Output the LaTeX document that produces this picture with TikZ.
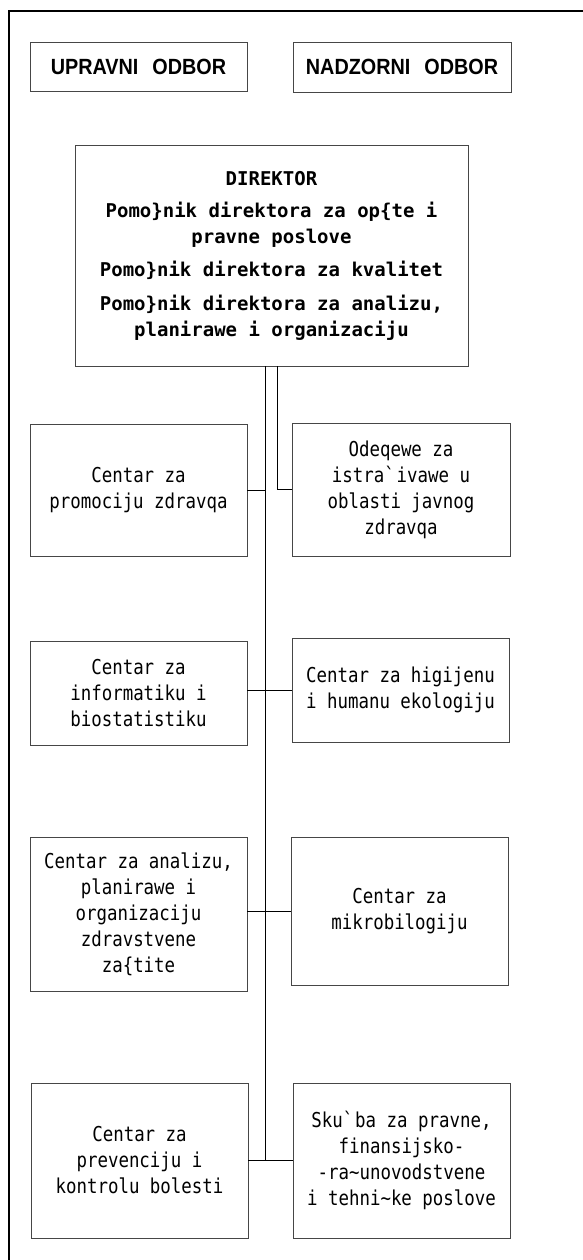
\documentclass[tikz,border=0pt]{standalone}
\usepackage{fontspec}
\usepackage{tikz}
\usetikzlibrary{positioning, calc}
\newfontfamily\unitfont[FakeStretch=0.85]{DejaVu Sans Mono}
\newfontfamily\dirfont{DejaVu Sans Mono Bold}
\newfontfamily\titlefont[FakeStretch=0.9]{Liberation Sans}
\definecolor{boxgray}{RGB}{70,70,70}

\begin{document}
\begin{tikzpicture}[x=1pt,y=-1pt,
  unit/.style={draw=boxgray,line width=0.9pt,inner sep=0pt,minimum width=217pt,align=center,
    font=\unitfont\fontsize{20.5}{26}\selectfont},
  board/.style={draw=boxgray,line width=0.9pt,inner sep=0pt,minimum width=217pt,minimum height=49pt,
    font=\titlefont\bfseries\fontsize{22}{26}\selectfont},
  link/.style={line width=0.9pt}]
\useasboundingbox (0,0) rectangle (583,1260);
% Frame
\draw[line width=2.6pt] (9,1262) -- (9,11) -- (585,11);

% Boards
\node[board] (upr) at (138.5,66.5) {UPRAVNI\hspace{14pt}ODBOR\hspace{14pt}};
\node[board,minimum width=218pt,minimum height=50pt] (nad) at (402,67) {NADZORNI\hspace{14pt}ODBOR};

% Director
\node[draw=boxgray,line width=0.9pt,inner sep=0pt,minimum width=393pt,minimum height=221pt,align=center,
  font=\dirfont\fontsize{19}{26}\selectfont] (dir) at (271.5,255.5)
  {DIREKTOR\\[6pt]
   Pomo\}nik direktora za op\{te i\\ pravne poslove\\[7pt]
   Pomo\}nik direktora za kvalitet\\[8pt]
   Pomo\}nik direktora za analizu,\\ planirawe i organizaciju};

% Units
\node[unit,minimum height=132pt] (promo) at (138.5,490) {Centar za\\ promociju zdravqa};
\node[unit,minimum width=218pt,minimum height=133pt] (odel) at (401,489.5)
  {Odeqewe za\\ istra\textasciigrave ivawe u\\ oblasti javnog\\ zdravqa};
\node[unit,minimum height=104pt] (info) at (138.5,693) {Centar za\\ informatiku i\\ biostatistiku};
\node[unit,minimum height=104pt] (hig) at (400.5,690) {Centar za higijenu\\ i humanu ekologiju};
\node[unit,minimum height=154pt] (ana) at (138.5,914)
  {Centar za analizu,\\ planirawe i\\ organizaciju\\ zdravstvene\\ za\{tite};
\node[unit,minimum height=148pt] (mik) at (399.5,911) {Centar za\\ mikrobilogiju};
\node[unit,minimum height=155pt] (prev) at (139.5,1160.5) {Centar za\\ prevenciju i\\ kontrolu bolesti};
\node[unit,minimum height=155pt] (sku) at (401.5,1160.5)
  {Sku\textasciigrave ba za pravne,\\ finansijsko-\\ -ra\textasciitilde unovodstvene\\ i tehni\textasciitilde ke poslove};

% Connectors
\coordinate (trunk) at ([xshift=-6.5pt]dir.south);
\draw[link] (trunk) -- (trunk |- prev.east);
\draw[link] ([xshift=5.5pt]dir.south) |- (odel.west);
\draw[link] (promo.east) -- (promo.east -| trunk);
\draw[link] (hig.west) -- (hig.west -| info.east);
\draw[link] (mik.west) -- (mik.west -| ana.east);
\draw[link] (prev.east) -- (sku.west);
\end{tikzpicture}
\end{document}
